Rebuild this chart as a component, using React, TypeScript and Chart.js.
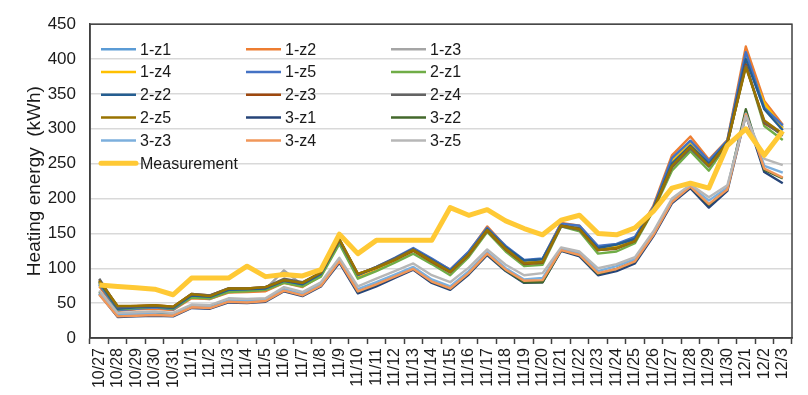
import React, { useEffect, useRef } from "react";
import { Chart, registerables } from "chart.js";

Chart.register(...registerables);

const categories = [
  "10/27", "10/28", "10/29", "10/30", "10/31",
  "11/1", "11/2", "11/3", "11/4", "11/5", "11/6", "11/7", "11/8", "11/9", "11/10",
  "11/11", "11/12", "11/13", "11/14", "11/15", "11/16", "11/17", "11/18", "11/19", "11/20",
  "11/21", "11/22", "11/23", "11/24", "11/25", "11/26", "11/27", "11/28", "11/29", "11/30",
  "12/1", "12/2", "12/3",
];

const s1z1 = [76, 40, 42, 43, 41, 58, 56, 66, 67, 68, 80, 74, 90, 138, 88, 100, 113, 127, 112, 97, 122, 157, 130, 110, 113, 163, 160, 130, 133, 143, 187, 255, 282, 252, 282, 408, 335, 302];
const s1z2 = [74, 39, 41, 42, 40, 57, 56, 65, 66, 67, 79, 73, 89, 137, 87, 99, 112, 127, 113, 98, 123, 160, 131, 111, 113, 165, 161, 131, 134, 144, 190, 262, 289, 256, 284, 418, 340, 306];
const s1z3 = [78, 41, 43, 44, 42, 60, 58, 67, 68, 70, 97, 76, 91, 139, 89, 101, 113, 126, 111, 96, 121, 156, 129, 109, 111, 162, 159, 129, 132, 142, 186, 252, 279, 251, 281, 405, 333, 303];
const s1z4 = [80, 42, 44, 45, 43, 61, 59, 68, 69, 71, 83, 77, 92, 139, 89, 100, 112, 126, 111, 96, 121, 156, 129, 108, 111, 162, 158, 128, 131, 141, 186, 254, 281, 251, 281, 402, 337, 300];
const s1z5 = [77, 40, 42, 44, 41, 59, 57, 67, 68, 69, 81, 75, 91, 138, 90, 102, 115, 129, 114, 98, 124, 158, 132, 112, 114, 164, 161, 132, 135, 145, 188, 258, 283, 254, 283, 410, 330, 305];
const s2z1 = [80, 41, 43, 45, 42, 58, 57, 66, 67, 69, 79, 74, 88, 135, 85, 96, 108, 121, 106, 90, 116, 152, 124, 103, 105, 160, 153, 121, 124, 136, 183, 240, 268, 240, 278, 392, 304, 284];
const s2z2 = [81, 42, 44, 45, 43, 61, 59, 69, 70, 71, 82, 77, 92, 140, 91, 101, 114, 127, 112, 96, 121, 156, 130, 111, 113, 161, 157, 129, 134, 142, 186, 250, 276, 250, 281, 400, 328, 298];
const s2z3 = [83, 45, 46, 47, 45, 63, 61, 71, 71, 73, 83, 79, 94, 141, 92, 101, 112, 125, 109, 94, 119, 154, 127, 106, 108, 161, 156, 126, 128, 139, 184, 245, 273, 246, 279, 392, 308, 292];
const s2z4 = [85, 44, 45, 46, 44, 63, 61, 71, 71, 73, 85, 80, 94, 141, 91, 102, 114, 127, 111, 95, 120, 155, 128, 107, 109, 160, 155, 126, 129, 139, 184, 246, 272, 246, 279, 390, 310, 290];
const s2z5 = [82, 46, 46, 47, 45, 63, 60, 71, 71, 73, 83, 79, 94, 142, 92, 101, 112, 126, 110, 95, 120, 155, 128, 107, 109, 161, 156, 126, 129, 139, 184, 247, 274, 247, 280, 388, 312, 293];
const s3z1 = [63, 30, 31, 32, 31, 43, 42, 51, 50, 52, 67, 60, 74, 108, 64, 74, 86, 98, 79, 69, 91, 119, 96, 79, 80, 125, 117, 90, 96, 107, 146, 193, 215, 187, 211, 320, 238, 222];
const s3z2 = [66, 33, 33, 35, 33, 45, 45, 53, 53, 54, 69, 62, 76, 112, 67, 77, 89, 100, 81, 71, 93, 121, 97, 80, 80, 126, 119, 92, 99, 110, 150, 197, 217, 191, 214, 328, 241, 229];
const s3z3 = [64, 34, 34, 34, 33, 45, 44, 54, 53, 54, 70, 63, 77, 112, 70, 80, 91, 102, 84, 74, 96, 123, 100, 84, 86, 128, 122, 96, 103, 113, 150, 197, 218, 197, 216, 322, 247, 237];
const s3z4 = [62, 31, 32, 33, 32, 44, 43, 52, 51, 53, 68, 61, 75, 110, 67, 77, 88, 99, 81, 71, 93, 121, 98, 82, 83, 126, 119, 93, 99, 110, 148, 195, 217, 192, 213, 321, 243, 230];
const s3z5 = [68, 36, 37, 38, 36, 48, 47, 57, 56, 57, 73, 66, 80, 115, 74, 85, 96, 107, 90, 80, 101, 127, 105, 90, 93, 130, 124, 100, 106, 116, 153, 200, 220, 202, 219, 318, 257, 248];
const measurement = [76, 74, 72, 70, 62, 86, 86, 86, 103, 88, 91, 89, 98, 149, 121, 140, 140, 140, 140, 187, 176, 184, 168, 157, 148, 169, 176, 150, 148, 158, 182, 215, 222, 215, 276, 300, 262, 297];

const seriesNames = ["1-z1", "1-z2", "1-z3", "1-z4", "1-z5", "2-z1", "2-z2", "2-z3", "2-z4", "2-z5", "3-z1", "3-z2", "3-z3", "3-z4", "3-z5", "Measurement"];
const seriesValues = [s1z1, s1z2, s1z3, s1z4, s1z5, s2z1, s2z2, s2z3, s2z4, s2z5, s3z1, s3z2, s3z3, s3z4, s3z5, measurement];
const seriesColors = ["#5B9BD5", "#ED7D31", "#A5A5A5", "#FFC000", "#4472C4", "#70AD47", "#255E91", "#9E480E", "#636363", "#997300", "#264478", "#43682B", "#7CAFDD", "#F1975A", "#B7B7B7", "#FFC935"];

const yTicks = [0, 50, 100, 150, 200, 250, 300, 350, 400, 450];
const yTitle = "Heating energy  (kWh)";

const FONT = "'Liberation Sans', Arial, sans-serif";
const TEXT = "#1a1a1a";
const AXIS = "#404040";

const borderPlugin = {
  id: "plotBorder",
  beforeDatasetsDraw(chart: any) {
    const { ctx, chartArea } = chart;
    ctx.save();
    ctx.strokeStyle = AXIS;
    ctx.lineWidth = 1.5;
    ctx.strokeRect(chartArea.left, chartArea.top, chartArea.right - chartArea.left, chartArea.bottom - chartArea.top);
    ctx.restore();
  },
};

const legendPlugin = {
  id: "gridLegend",
  afterDatasetsDraw(chart: any) {
    const { ctx, chartArea } = chart;
    const colX = [11, 156, 301];
    const rowY0 = 25;
    const rowH = 22.8;
    const lineLen = 35;
    ctx.save();
    ctx.font = `16px ${FONT}`;
    ctx.textBaseline = "middle";
    ctx.textAlign = "left";
    chart.data.datasets.forEach((ds: any, i: number) => {
      const col = i % 3;
      const row = Math.floor(i / 3);
      const x = chartArea.left + colX[col];
      const y = chartArea.top + rowY0 + row * rowH;
      ctx.strokeStyle = ds.borderColor;
      ctx.lineWidth = ds.label === "Measurement" ? 5 : 2.5;
      ctx.lineCap = ds.label === "Measurement" ? "round" : "butt";
      ctx.beginPath();
      ctx.moveTo(x, y);
      ctx.lineTo(x + lineLen, y);
      ctx.stroke();
      ctx.fillStyle = TEXT;
      ctx.fillText(ds.label, x + lineLen + 4, y + 1);
    });
    ctx.restore();
  },
};

export default function App() {
  const ref = useRef<HTMLCanvasElement>(null);
  useEffect(() => {
    document.body.style.margin = "0";
    Chart.defaults.font.family = FONT;
    const n = seriesNames.length;
    const chart = new Chart(ref.current as HTMLCanvasElement, {
      type: "line",
      data: {
        labels: categories,
        datasets: seriesNames.map((name, i) => ({
          label: name,
          data: seriesValues[i],
          borderColor: seriesColors[i],
          backgroundColor: seriesColors[i],
          borderWidth: name === "Measurement" ? 5 : 2.4,
          pointRadius: 0,
          tension: 0,
          fill: false,
          order: n - 1 - i,
          borderJoinStyle: "round" as const,
        })),
      },
      options: {
        responsive: false,
        maintainAspectRatio: false,
        devicePixelRatio: 1,
        animation: false,
        layout: { padding: { left: 0, right: 16, top: 15, bottom: 0 } },
        plugins: {
          legend: { display: false },
          tooltip: { enabled: false },
        },
        scales: {
          x: {
            type: "category",
            offset: true,
            grid: {
              display: true,
              drawOnChartArea: false,
              drawTicks: true,
              tickLength: 6,
              tickColor: AXIS,
              tickWidth: 1.5,
              offset: true,
            },
            border: { display: true, color: AXIS, width: 1.5 },
            ticks: {
              autoSkip: false,
              maxRotation: 90,
              minRotation: 90,
              padding: 4,
              color: TEXT,
              font: { family: FONT, size: 16 },
            },
            afterFit: (s: any) => {
              s.height = 57;
            },
          },
          y: {
            min: 0,
            max: 450,
            afterBuildTicks: (s: any) => {
              s.ticks = yTicks.map((v) => ({ value: v }));
            },
            grid: { color: "#D9D9D9", lineWidth: 1.5, drawTicks: false },
            border: { display: true, color: AXIS, width: 1.5 },
            ticks: {
              padding: 14,
              color: TEXT,
              font: { family: FONT, size: 17 },
            },
            title: {
              display: true,
              text: yTitle,
              color: TEXT,
              font: { family: FONT, size: 19 },
              padding: { top: 23, bottom: 0 },
            },
            afterFit: (s: any) => {
              s.width = 90;
            },
          },
        },
      },
      plugins: [borderPlugin, legendPlugin],
    });
    return () => chart.destroy();
  }, []);
  return (
    <div style={{ position: "absolute", left: 0, top: 0, width: 808, height: 395, background: "#fff" }}>
      <canvas ref={ref} width={808} height={395} style={{ width: 808, height: 395, display: "block" }} />
    </div>
  );
}
